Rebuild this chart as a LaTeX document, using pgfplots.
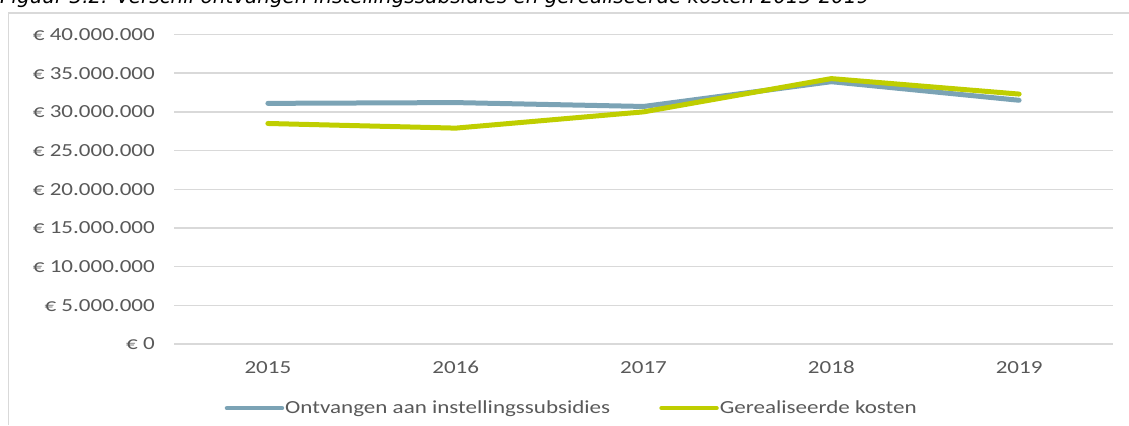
\documentclass[border=0pt]{standalone}
\usepackage{pgfplots}
\pgfplotsset{compat=1.18}
\usepackage{fontspec}
\setmainfont{Carlito}[FakeStretch=1.25]
\newfontfamily\titlefont{DejaVu Sans}
\definecolor{gridc}{HTML}{D9D9D9}
\definecolor{txt}{HTML}{595959}
\definecolor{blueline}{HTML}{7BA3B5}
\definecolor{greenline}{HTML}{BFCE00}
\begin{document}
\begin{tikzpicture}[x=1bp,y=1bp]
\useasboundingbox (0,0) rectangle (1129,425);
\begin{scope}
\clip (0,0) rectangle (1129,425);
\node[anchor=base west, inner sep=0pt, font=\titlefont\itshape\fontsize{20}{24}\selectfont] at (0,421) {Figuur 3.2: Verschil ontvangen instellingssubsidies en gerealiseerde kosten 2015-2019};
\draw[gridc, line width=1.5bp] (8.5,0) -- (8.5,412) -- (1135,412);
\end{scope}
\begin{axis}[
  at={(174bp,81bp)}, anchor=south west,
  scale only axis, width=939bp, height=309.5bp,
  xmin=-0.5, xmax=4.5, ymin=0, ymax=40000000,
  scaled y ticks=false,
  xtick={0,1,2,3,4}, xticklabels={2015,2016,2017,2018,2019},
  ytick={0,5000000,10000000,15000000,20000000,25000000,30000000,35000000,40000000},
  yticklabels={€ 0,€ 5.000.000,€ 10.000.000,€ 15.000.000,€ 20.000.000,€ 25.000.000,€ 30.000.000,€ 35.000.000,€ 40.000.000},
  axis line style={draw=none},
  major tick length=0pt,
  ymajorgrids, grid style={gridc, line width=1.5bp},
  ticklabel style={font=\fontsize{18.5}{20}\selectfont, text=txt},
  yticklabel style={anchor=east, inner sep=0pt, xshift=-19bp},
  xticklabel style={anchor=base, inner sep=0pt, yshift=-29bp},
  legend columns=2,
  legend style={at={(0.423,-0.207)}, anchor=center, draw=none, fill=none,
    font=\fontsize{18.5}{20}\selectfont, text=txt, inner sep=0pt,
    nodes={inner sep=1bp},
    /tikz/every even column/.append style={column sep=48bp}},
  legend image code/.code={\draw[#1, line width=4.5bp, line cap=round] (0bp,0bp) -- (55bp,0bp);},
]
\addplot[blueline, line width=5bp, line cap=round, line join=round] coordinates {
 (0,31100000) (1,31200000) (2,30700000) (3,33900000) (4,31500000)};
\addlegendentry{Ontvangen aan instellingssubsidies}
\addplot[greenline, line width=5bp, line cap=round, line join=round] coordinates {
 (0,28500000) (1,27900000) (2,30000000) (3,34300000) (4,32300000)};
\addlegendentry{Gerealiseerde kosten}
\end{axis}
\end{tikzpicture}
\end{document}
